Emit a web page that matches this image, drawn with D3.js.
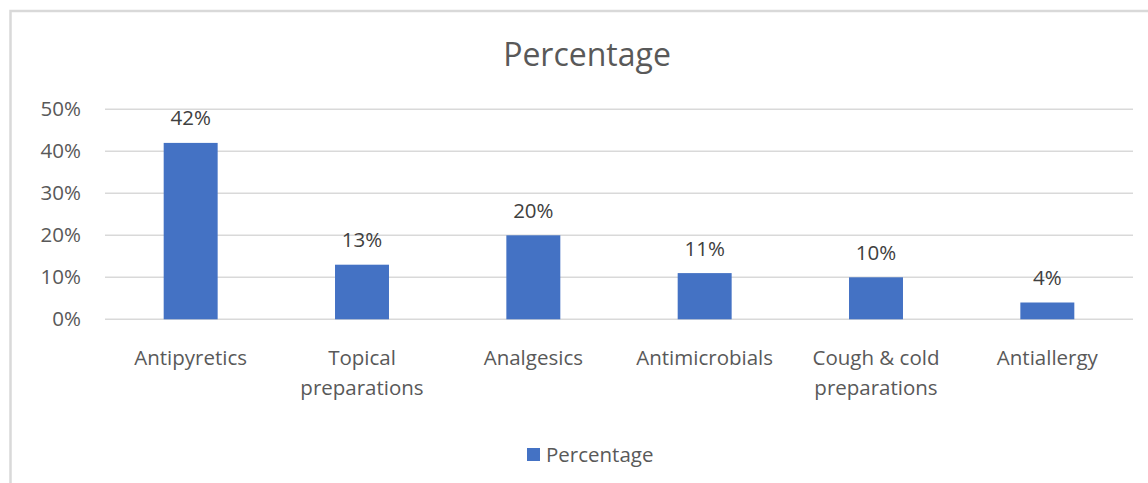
<!DOCTYPE html>
<html>
<head>
<meta charset="utf-8">
<script src="https://cdn.jsdelivr.net/npm/d3@7"></script>
<style>
  html, body { margin: 0; padding: 0; background: #fff; }
  svg { display: block; font-family: "Open Sans", sans-serif; }
</style>
</head>
<body>
<svg id="chart" width="1148" height="483"></svg>
<script>
// Drug groups and the share of each
const categories = ["Antipyretics", "Topical preparations", "Analgesics", "Antimicrobials", "Cough & cold preparations", "Antiallergy"];
const categoryLines = [["Antipyretics"], ["Topical", "preparations"], ["Analgesics"], ["Antimicrobials"], ["Cough & cold", "preparations"], ["Antiallergy"]];
const percentages = [42, 13, 20, 11, 10, 4];
const yTicks = [0, 10, 20, 30, 40, 50];
const seriesName = "Percentage";

const svg = d3.select("#chart");
const W = 1148, H = 483;
const plot = { left: 105, right: 1133, top: 109.3, bottom: 319.3 };
const labelSize = 20.5;

// Chart area border
svg.append("rect")
  .attr("x", 10.5).attr("y", 11)
  .attr("width", W + 20).attr("height", H + 20)
  .attr("fill", "#fff")
  .attr("stroke", "#d9d9d9").attr("stroke-width", 2.5);

// Chart title
svg.append("text")
  .attr("x", 587).attr("y", 66)
  .attr("text-anchor", "middle")
  .attr("font-size", 32)
  .attr("fill", "#595959")
  .text(seriesName);

const x = d3.scaleBand()
  .domain(categories)
  .range([plot.left, plot.right])
  .paddingInner(0.685)
  .paddingOuter(0.3425);

const y = d3.scaleLinear()
  .domain([0, 50])
  .range([plot.bottom, plot.top]);

// Horizontal gridlines
svg.append("g")
  .selectAll("line")
  .data(yTicks)
  .join("line")
  .attr("x1", plot.left).attr("x2", plot.right)
  .attr("y1", d => y(d)).attr("y2", d => y(d))
  .attr("stroke", "#d9d9d9").attr("stroke-width", 1.5);

// Y axis labels
const yAxis = d3.axisLeft(y).tickValues(yTicks).tickFormat(d => d + "%").tickSize(0).tickPadding(0);
const gy = svg.append("g").attr("transform", `translate(81,0)`).call(yAxis);
gy.select(".domain").remove();
gy.selectAll("text")
  .attr("font-family", "Open Sans, sans-serif")
  .attr("font-size", labelSize)
  .attr("fill", "#595959");

// Bars
svg.append("g")
  .selectAll("rect")
  .data(percentages)
  .join("rect")
  .attr("x", (d, i) => x(categories[i]))
  .attr("width", x.bandwidth())
  .attr("y", d => y(d))
  .attr("height", d => y(0) - y(d))
  .attr("fill", "#4472c4");

// Value labels
svg.append("g")
  .selectAll("text")
  .data(percentages)
  .join("text")
  .attr("x", (d, i) => x(categories[i]) + x.bandwidth() / 2)
  .attr("y", d => y(d) - 17.5)
  .attr("text-anchor", "middle")
  .attr("font-size", labelSize)
  .attr("fill", "#404040")
  .text(d => d + "%");

// Category labels (wrapped)
const gx = svg.append("g");
categoryLines.forEach((lines, i) => {
  const cx = x(categories[i]) + x.bandwidth() / 2;
  const t = gx.append("text")
    .attr("x", cx).attr("y", 365)
    .attr("text-anchor", "middle")
    .attr("font-size", labelSize)
    .attr("fill", "#595959");
  lines.forEach((ln, j) => {
    t.append("tspan").attr("x", cx).attr("dy", j === 0 ? 0 : 29.5).text(ln);
  });
});

// Legend
const legend = svg.append("g");
legend.append("rect")
  .attr("x", 527).attr("y", 448)
  .attr("width", 13).attr("height", 13)
  .attr("fill", "#4472c4");
legend.append("text")
  .attr("x", 546).attr("y", 461.5)
  .attr("font-size", labelSize)
  .attr("fill", "#595959")
  .text(seriesName);
</script>
</body>
</html>
